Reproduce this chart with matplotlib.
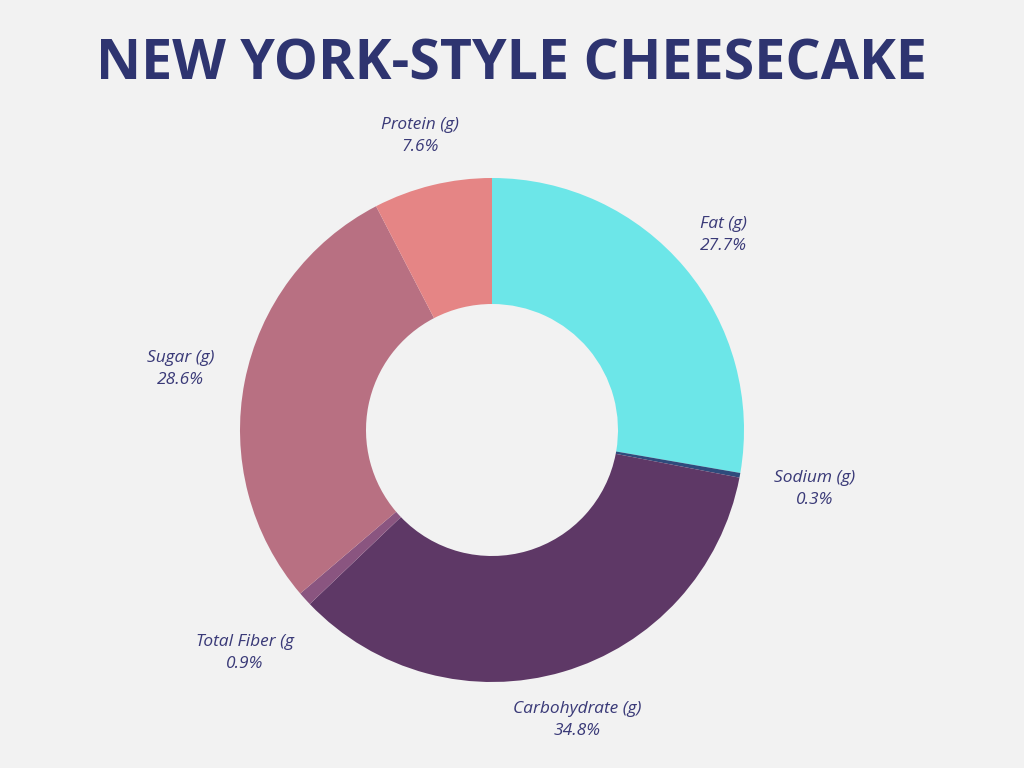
import matplotlib.pyplot as plt
import numpy as np

labels = ["Fat (g)", "Sodium (g)", "Carbohydrate (g)", "Total Fiber (g", "Sugar (g)", "Protein (g)"]
values = [27.7, 0.3, 34.8, 0.9, 28.6, 7.6]
colors = ["#6ce6e8", "#2f4b7c", "#5e3866", "#8a5580", "#b87082", "#e58585"]
label_radius = [1.2, 1.3, 1.2, 1.32, 1.26, 1.2]

fig = plt.figure(figsize=(10.24, 7.68), dpi=100, facecolor="#f2f2f2")
ax = fig.add_axes([(492 - 252) / 1024, (768 - 430 - 252) / 768, 504 / 1024, 504 / 768])
ax.set_facecolor("#f2f2f2")

wedges, _ = ax.pie(values, colors=colors, startangle=90, counterclock=False,
                   radius=1.0, wedgeprops=dict(width=0.5, edgecolor="none"))
ax.set_xlim(-1, 1)
ax.set_ylim(-1, 1)
ax.set_aspect("equal")
ax.axis("off")

total = sum(values)
for w, lab, v, r in zip(wedges, labels, values, label_radius):
    ang = np.deg2rad((w.theta1 + w.theta2) / 2)
    x, y = r * np.cos(ang), r * np.sin(ang)
    ax.text(x, y, f"{lab}\n{v / total * 100:.1f}%", ha="center", va="center",
            fontsize=12.5, style="italic", color="#3a3a78", family="Open Sans",
            linespacing=1.5, clip_on=False)

fig.text(0.5, 1 - 65 / 768, "NEW YORK-STYLE CHEESECAKE", ha="center", va="center",
         fontsize=40, fontweight="bold", color="#2e3470", family="Open Sans")

fig.savefig("out.png", dpi=100, facecolor=fig.get_facecolor())
